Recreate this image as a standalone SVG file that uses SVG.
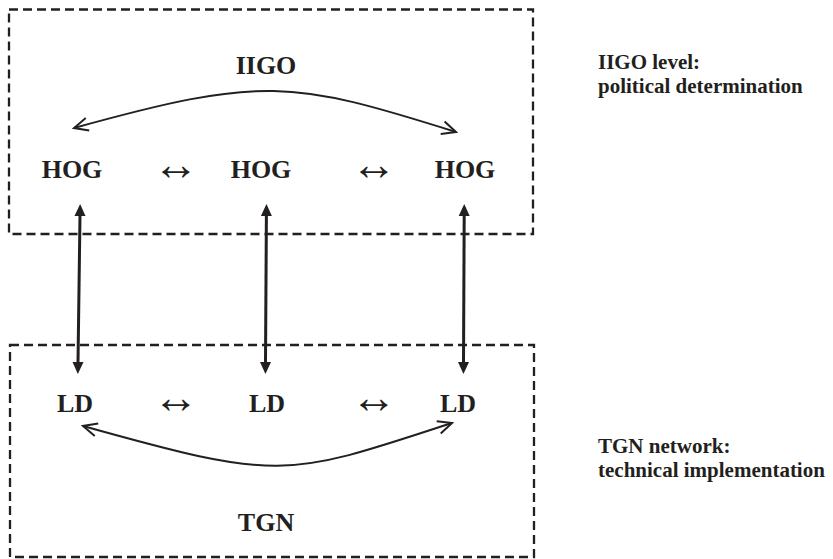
<svg xmlns="http://www.w3.org/2000/svg" width="833" height="559" viewBox="0 0 833 559">
  <style>
    .t { font-family: "Liberation Serif", "Times New Roman", serif; font-weight: bold; fill: #231f20; }
    .n { font-size: 26px; text-anchor: middle; }
    .s { font-size: 21px; }
    .lr { font-family: "Liberation Serif", "Times New Roman", serif; font-weight: normal; font-size: 46px; text-anchor: middle; fill: #231f20; }
    .box { fill: none; stroke: #231f20; stroke-width: 2.3; stroke-dasharray: 9 5; }
    .curve { fill: none; stroke: #231f20; stroke-width: 2; marker-start: url(#open); marker-end: url(#open); }
    .vert { fill: none; stroke: #231f20; stroke-width: 3; marker-start: url(#solid); marker-end: url(#solid); }
  </style>
  <defs>
    <marker id="open" markerUnits="userSpaceOnUse" viewBox="-16 -8 18 16" refX="0" refY="0" markerWidth="18" markerHeight="16" orient="auto-start-reverse">
      <path d="M-14,-6.5 L0,0 L-14,6.5" fill="none" stroke="#231f20" stroke-width="2"/>
    </marker>
    <marker id="solid" markerUnits="userSpaceOnUse" viewBox="-2 -7 16 14" refX="0" refY="0" markerWidth="16" markerHeight="14" orient="auto-start-reverse">
      <path d="M-1,-5.5 L11,0 L-1,5.5 z" fill="#231f20"/>
    </marker>
  </defs>

  <g id="iigo-box">
    <rect class="box" x="9" y="9.5" width="524" height="224.5"/>
  </g>
  <g id="tgn-box">
    <rect class="box" x="10" y="345" width="524" height="212"/>
  </g>

  <g id="iigo"><text class="t n" x="266" y="74">IIGO</text></g>
  <g id="hog1"><text class="t n" x="72" y="178">HOG</text></g>
  <g id="hog2"><text class="t n" x="261" y="178">HOG</text></g>
  <g id="hog3"><text class="t n" x="465" y="178">HOG</text></g>
  <g id="ld1"><text class="t n" x="75" y="412">LD</text></g>
  <g id="ld2"><text class="t n" x="267" y="412">LD</text></g>
  <g id="ld3"><text class="t n" x="458" y="412">LD</text></g>
  <g id="tgn"><text class="t n" x="266" y="531">TGN</text></g>

  <g id="lr-symbols">
    <text class="lr" x="176" y="180">↔</text>
    <text class="lr" x="374" y="180">↔</text>
    <text class="lr" x="176" y="413">↔</text>
    <text class="lr" x="374" y="413">↔</text>
  </g>

  <g id="iigo-label">
    <text class="t s" x="598" y="69">IIGO level:</text>
    <text class="t s" x="598" y="93">political determination</text>
  </g>
  <g id="tgn-label">
    <text class="t s" x="598" y="453">TGN network:</text>
    <text class="t s" x="598" y="477">technical implementation</text>
  </g>

  <g id="connectors">
    <path class="curve" d="M74,128 C262,76 291,80 456,132"/>
    <path class="curve" d="M83,426 C280,481 285,478 452,423"/>
    <path class="vert" d="M80,215 L78,363"/>
    <path class="vert" d="M266.4,215 L265.5,363"/>
    <path class="vert" d="M464.2,215 L463.5,363"/>
  </g>
</svg>
